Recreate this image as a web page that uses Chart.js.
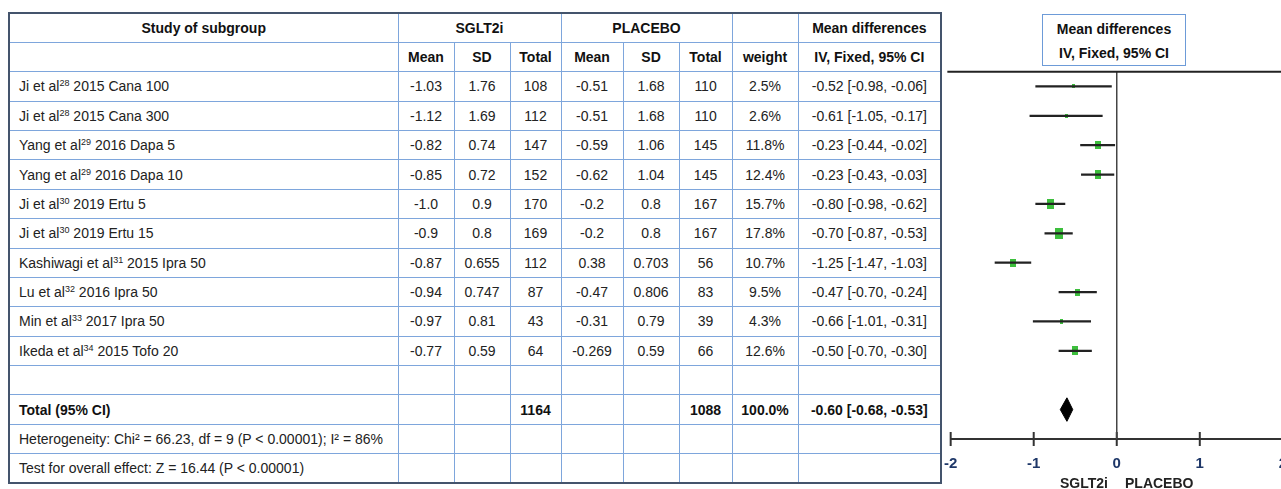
<!DOCTYPE html>
<html>
<head>
<meta charset="utf-8">
<script src="https://cdn.jsdelivr.net/npm/chart.js@4.4.1/dist/chart.umd.min.js"></script>
<style>
  html, body { margin: 0; padding: 0; background: #fff; width: 1281px; height: 489px; overflow: hidden; }
  body { position: relative; font-family: "Liberation Sans", Arial, sans-serif; color: #222; }
  #tbl { position: absolute; left: 8px; top: 12px; width: 934px; border-collapse: collapse; table-layout: fixed; border: 2px solid #44546c; font-size: 14px; }
  #tbl tr { height: 29.375px; }
  #tbl td { border: 1.5px solid #7ea6dc; padding: 0; text-align: center; white-space: nowrap; overflow: hidden; }
  #tbl td.study { text-align: left; padding-left: 9px; }
  #tbl .b { font-weight: bold; color: #111; }
  #tbl sup { font-size: 9px; line-height: 0; vertical-align: 5px; }
  #mdbox { position: absolute; left: 1042px; top: 14px; width: 144px; height: 52px; box-sizing: border-box; border: 1.5px solid #6d9bd8; font-weight: bold; font-size: 14px; line-height: 24px; text-align: center; padding-top: 2px; color: #111; }
  #forest { position: absolute; left: 928px; top: 0; }
  .side { position: absolute; top: 475px; font-weight: bold; font-size: 14px; line-height: 16px; color: #222; }
</style>
</head>
<body>
<table id="tbl"></table>
<div id="mdbox">Mean differences<br>IV, Fixed, 95% CI</div>
<div id="forest"><canvas id="c" width="375" height="489"></canvas></div>
<div class="side" style="left:1060px">SGLT2i</div>
<div class="side" style="left:1125px">PLACEBO</div>
<script>
// study labels
const authors = ["Ji et al", "Ji et al", "Yang et al", "Yang et al", "Ji et al", "Ji et al", "Kashiwagi et al", "Lu et al", "Min et al", "Ikeda et al"];
const refs = [28, 28, 29, 29, 30, 30, 31, 32, 33, 34];
const studyTail = ["2015 Cana 100", "2015 Cana 300", "2016 Dapa 5", "2016 Dapa 10", "2019 Ertu 5", "2019 Ertu 15", "2015 Ipra 50", "2016 Ipra 50", "2017 Ipra 50", "2015 Tofo 20"];

// SGLT2i arm
const sgltMean = ["-1.03", "-1.12", "-0.82", "-0.85", "-1.0", "-0.9", "-0.87", "-0.94", "-0.97", "-0.77"];
const sgltSD = ["1.76", "1.69", "0.74", "0.72", "0.9", "0.8", "0.655", "0.747", "0.81", "0.59"];
const sgltTotal = [108, 112, 147, 152, 170, 169, 112, 87, 43, 64];

// placebo arm
const plcMean = ["-0.51", "-0.51", "-0.59", "-0.62", "-0.2", "-0.2", "0.38", "-0.47", "-0.31", "-0.269"];
const plcSD = ["1.68", "1.68", "1.06", "1.04", "0.8", "0.8", "0.703", "0.806", "0.79", "0.59"];
const plcTotal = [110, 110, 145, 145, 167, 167, 56, 83, 39, 66];

const weights = [2.5, 2.6, 11.8, 12.4, 15.7, 17.8, 10.7, 9.5, 4.3, 12.6];
const mdEst = [-0.52, -0.61, -0.23, -0.23, -0.80, -0.70, -1.25, -0.47, -0.66, -0.50];
const mdLo = [-0.98, -1.05, -0.44, -0.43, -0.98, -0.87, -1.47, -0.70, -1.01, -0.70];
const mdHi = [-0.06, -0.17, -0.02, -0.03, -0.62, -0.53, -1.03, -0.24, -0.31, -0.30];

const totalSglt = 1164, totalPlc = 1088, totalWeight = "100.0%";
const totalEst = -0.60, totalLo = -0.68, totalHi = -0.53;
const heterogeneity = "Heterogeneity: Chi² = 66.23, df = 9 (P < 0.00001); I² = 86%";
const overallTest = "Test for overall effect: Z = 16.44 (P < 0.00001)";

const xTicks = [-2, -1, 0, 1, 2];

// ---- table ----
const ci = (e, l, h) => `${e.toFixed(2)} [${l.toFixed(2)}, ${h.toFixed(2)}]`;
const empty8 = '<td></td>'.repeat(8);
let html = '<colgroup><col style="width:389px"><col style="width:56px"><col style="width:56px"><col style="width:51px">' +
  '<col style="width:62px"><col style="width:56px"><col style="width:53px"><col style="width:66px"><col style="width:143px"></colgroup>';
html += '<tr><td class="b">Study of subgroup</td><td class="b" colspan="3">SGLT2i</td><td class="b" colspan="3">PLACEBO</td><td></td><td class="b">Mean differences</td></tr>';
html += '<tr><td></td>' + ['Mean', 'SD', 'Total', 'Mean', 'SD', 'Total', 'weight', 'IV, Fixed, 95% CI'].map(t => `<td class="b">${t}</td>`).join('') + '</tr>';
authors.forEach((a, i) => {
  html += `<tr><td class="study">${a}<sup>${refs[i]}</sup> ${studyTail[i]}</td>` +
    [sgltMean[i], sgltSD[i], sgltTotal[i], plcMean[i], plcSD[i], plcTotal[i], weights[i].toFixed(1) + '%', ci(mdEst[i], mdLo[i], mdHi[i])]
      .map(t => `<td>${t}</td>`).join('') + '</tr>';
});
html += '<tr><td></td>' + empty8 + '</tr>';
html += `<tr><td class="study b">Total (95% CI)</td><td></td><td></td><td class="b">${totalSglt}</td><td></td><td></td><td class="b">${totalPlc}</td><td class="b">${totalWeight}</td><td class="b">${ci(totalEst, totalLo, totalHi)}</td></tr>`;
html += `<tr><td class="study">${heterogeneity}</td>` + empty8 + '</tr>';
html += `<tr><td class="study">${overallTest}</td>` + empty8 + '</tr>';
document.getElementById('tbl').innerHTML = html;

// ---- forest plot ----
// y scale counts table rows from the top (0..16); study i sits in row i+2
const rowOf = i => i + 2.5;
const totalRow = 13.5;
const axisRow = 14.5;

const ciData = mdLo.flatMap((lo, i) => [{ x: lo, y: rowOf(i) }, { x: mdHi[i], y: rowOf(i) }, { x: null, y: null }]);
const boxData = mdEst.map((v, i) => ({ x: v, y: rowOf(i) }));
const diamondData = [
  { x: totalLo, y: totalRow }, { x: totalEst, y: totalRow - 0.4 },
  { x: totalHi, y: totalRow }, { x: totalEst, y: totalRow + 0.4 }, { x: totalLo, y: totalRow }
];
const tickData = xTicks.flatMap(t => [{ x: t, y: axisRow - 0.24 }, { x: t, y: axisRow + 0.24 }, { x: null, y: null }]);

function boxImage(w) {
  const c = document.createElement('canvas');
  const bw = Math.round(2 + w * 0.33), bh = Math.round(3 + w * 0.45);
  c.width = bw; c.height = bh;
  const g = c.getContext('2d');
  g.fillStyle = '#3dbf3d';
  g.fillRect(0, 0, bw, bh);
  return c;
}
const boxImages = weights.map(boxImage);

Chart.defaults.font.family = '"Liberation Sans", Arial, sans-serif';

const lineBase = { pointRadius: 0, pointHoverRadius: 0, fill: false, tension: 0 };

new Chart(document.getElementById('c'), {
  type: 'line',
  data: {
    datasets: [
      { ...lineBase, data: [{ x: -2.04, y: 2 }, { x: 2.2, y: 2 }], borderColor: '#222', borderWidth: 2, clip: false },
      { ...lineBase, data: [{ x: 0, y: 2 }, { x: 0, y: axisRow }], borderColor: '#444', borderWidth: 1.5 },
      { ...lineBase, data: tickData, borderColor: '#333', borderWidth: 2, clip: false },
      { ...lineBase, data: ciData, borderColor: '#222', borderWidth: 2.2 },
      { data: boxData, showLine: false, pointStyle: ctx => boxImages[ctx.dataIndex], pointRadius: 4 },
      { ...lineBase, data: diamondData, borderColor: '#000', backgroundColor: '#000', borderWidth: 1, fill: 'shape' }
    ]
  },
  options: {
    responsive: false,
    animation: false,
    events: [],
    layout: { padding: { left: 8, right: 6, top: 13, bottom: 6 } },
    plugins: { legend: { display: false }, tooltip: { enabled: false } },
    scales: {
      y: { type: 'linear', min: 0, max: 16, reverse: true, display: false },
      x: {
        type: 'linear', min: -2, max: 2,
        position: { y: axisRow },
        border: { display: true, color: '#333', width: 2 },
        grid: { display: true, drawOnChartArea: false, drawTicks: false },
        ticks: { stepSize: 1, padding: 16, color: '#1e3768', font: { size: 15, weight: 'bold' } }
      }
    }
  }
});
</script>
</body>
</html>
